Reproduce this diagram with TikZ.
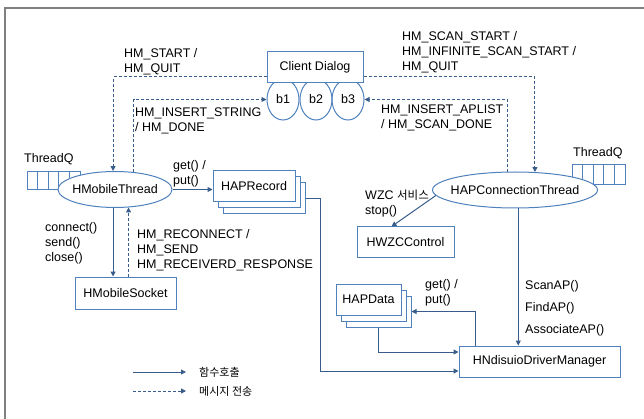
\documentclass[tikz,border=0pt]{standalone}
\usepackage{fontspec}
\setmainfont{Liberation Sans}
\newfontfamily\kr{Noto Sans CJK KR}
\usetikzlibrary{arrows.meta,shapes.geometric,calc}
\definecolor{boxline}{RGB}{79,129,189}
\definecolor{wire}{RGB}{56,93,138}
\definecolor{framegray}{RGB}{128,128,128}
\begin{document}
\begin{tikzpicture}[x=1pt,y=-1pt,
  every node/.style={font=\fontsize{12.5}{15}\selectfont},
  box/.style={draw=boxline, line width=1pt, fill=white, inner sep=0, minimum height=31},
  oval/.style={ellipse, draw=boxline, line width=1pt, fill=white, inner ysep=0pt, inner xsep=-15pt, minimum height=36},
  bubble/.style={ellipse, draw=boxline, line width=1pt, inner sep=0, minimum width=32, minimum height=41},
  qcell/.style={draw=boxline, line width=0.8pt, fill=white, minimum width=10.6, minimum height=18, inner sep=0},
  call/.style={draw=wire, line width=1pt, -{Triangle[length=5pt,width=5pt]}},
  msg/.style={call, dash pattern=on 3pt off 2pt},
  lbl/.style={anchor=north west, inner sep=0, align=left},
  legend/.style={anchor=west, inner sep=0, font=\kr\fontsize{11}{13}\selectfont}]
\useasboundingbox (0,0) rectangle (644,419);

% outer frame (left and top edges)
\draw[framegray, line width=2.5pt] (5,419) -- (5,8) -- (644,8);

% message queues
\foreach \i in {0,...,4}
  \node[qcell] (lq\i) at (32.3+10.6*\i,180) {};
\foreach \i in {0,...,4}
  \node[qcell, minimum height=20] (rq\i) at (577.3+10.6*\i,174) {};
\node[lbl] (lqlabel) at (24,153) {ThreadQ};
\node[lbl] (rqlabel) at (573,147) {ThreadQ};

% client dialog with its three buttons
\node[bubble] (b1) at (283,99.5) {b1};
\node[bubble] (b2) at (316,99.5) {b2};
\node[bubble] (b3) at (348,99.5) {b3};
\node[box, minimum width=96] (cd) at (315,67.5) {Client Dialog};

% threads
\node[oval, minimum width=114] (hmt) at (115,189.5) {HMobileThread};
\node[oval, minimum width=165] (hct) at (515,190) {HAPConnectionThread};

% record stacks
\node[box, minimum width=82] (hr3) at (264,198.5) {};
\node[box, minimum width=82] (hr2) at (259,192.5) {};
\node[box, minimum width=82] (hr) at (254,186.5) {HAPRecord};

\node[box, minimum width=65] (hd3) at (378.5,311.5) {};
\node[box, minimum width=65] (hd2) at (373.5,305.5) {};
\node[box, minimum width=65] (hd) at (368.5,299.5) {HAPData};

% other modules
\node[box, minimum width=101, minimum height=32] (hms) at (125.5,293) {HMobileSocket};
\node[box, minimum width=97] (hwzc) at (405.5,242.5) {HWZCControl};
\node[box, minimum width=161] (ndm) at (539.5,361.5) {HNdisuioDriverManager};

% message connectors
\draw[msg] ($(cd.west)+(0,9.5)$) -| (hmt.96);
\draw[msg] (hmt.43.5) |- (b1.west);
\draw[msg] ($(cd.east)+(0,9.5)$) -| (hct.42.6);
\draw[msg] (hct.111.3) |- (b3.east);
\draw[msg] (hms.north -| hmt.-53.4) -- (hmt.-53.4);

% function call connectors
\draw[call] (hmt.east) -- (hmt.east -| hr.west);
\draw[call] (hmt.-96) -- (hmt.-96 |- hms.north);
\draw[call] (hr3.east) -- ++(15,0) |- ($(ndm.west)+(0,9.5)$);
\draw[call] (hct.184) -- ($(hwzc.north west)+(35,0)$);
\draw[call] (hct.-80.5) -- (hct.-80.5 |- ndm.north);
\draw[call] ($(ndm.north west)+(17,0)$) |- (hd3.east);
\draw[call] (hd3.south) |- ($(ndm.west)+(0,-9.5)$);

% labels
\node[lbl] (l1) at (124,48) {HM\_START /\\HM\_QUIT};
\node[lbl] (l2) at (402,31) {HM\_SCAN\_START /\\HM\_INFINITE\_SCAN\_START /\\HM\_QUIT};
\node[lbl] (l3) at (135,108) {HM\_INSERT\_STRING\\/ HM\_DONE};
\node[lbl] (l4) at (381,105) {HM\_INSERT\_APLIST\\/ HM\_SCAN\_DONE};
\node[lbl] (l5) at (173,160) {get() /\\put()};
\node[lbl] (l6) at (365,190) {WZC {\kr\fontsize{11.5}{15}\selectfont 서비스}\\stop()};
\node[lbl] (l7) at (45,222) {connect()\\send()\\close()};
\node[lbl] (l8) at (137,229) {HM\_RECONNECT /\\HM\_SEND\\HM\_RECEIVERD\_RESPONSE};
\node[lbl] (l9) at (425,279) {get() /\\put()};
\node[lbl, font=\fontsize{12.5}{22}\selectfont] (l10) at (525,280) {ScanAP()\\FindAP()\\AssociateAP()};

% legend
\coordinate (ka) at (133,372);
\coordinate (kb) at (186,372);
\coordinate (kc) at (133,391);
\coordinate (kd) at (186,391);
\draw[call] (ka) -- (kb);
\draw[msg] (kc) -- (kd);
\node[legend] (k1) at (199,372) {함수호출};
\node[legend] (k2) at (199,391) {메시지 전송};
\end{tikzpicture}
\end{document}
